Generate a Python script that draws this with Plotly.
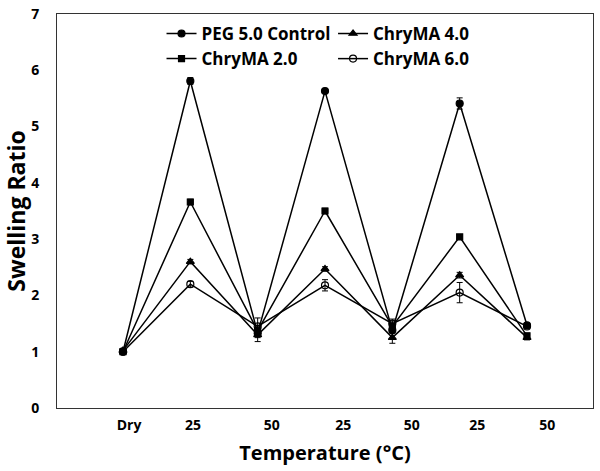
import plotly.graph_objects as go

categories = ["Dry", "25", "50", "25", "50", "25", "50"]
x_index = [0, 1, 2, 3, 4, 5, 6]
# tick label positions (labels in the original are slightly offset from the points)
label_pos = [0.09, 1.04, 2.21, 3.27, 4.29, 5.26, 6.30]

peg_control = [1.00, 5.81, 1.33, 5.63, 1.38, 5.41, 1.47]
peg_err = [0.05, 0.06, 0.08, 0.03, 0.05, 0.10, 0.03]
chryma_20 = [1.00, 3.66, 1.37, 3.50, 1.45, 3.04, 1.28]
chryma_20_err = [0.04, 0.05, 0.10, 0.05, 0.08, 0.04, 0.05]
chryma_40 = [1.02, 2.60, 1.30, 2.47, 1.25, 2.36, 1.25]
chryma_40_err = [0.04, 0.04, 0.12, 0.04, 0.10, 0.05, 0.04]
chryma_60 = [1.00, 2.20, 1.45, 2.18, 1.50, 2.05, 1.45]
chryma_60_err = [0.05, 0.05, 0.15, 0.10, 0.08, 0.18, 0.04]

series = [
    ("PEG 5.0 Control", peg_control, peg_err, "circle", 7, "legend"),
    ("ChryMA 2.0", chryma_20, chryma_20_err, "square", 6, "legend"),
    ("ChryMA 4.0", chryma_40, chryma_40_err, "triangle-up", 7, "legend2"),
    ("ChryMA 6.0", chryma_60, chryma_60_err, "circle-open", 7, "legend2"),
]

fig = go.Figure()
for name, vals, err, sym, size, leg in series:
    fig.add_trace(go.Scatter(
        x=x_index, y=vals, name=name, mode="lines+markers",
        line=dict(color="black", width=1.5),
        marker=dict(symbol=sym, size=size, color="black",
                    line=dict(color="black", width=1.2)),
        error_y=dict(type="data", array=err, visible=True, color="black",
                     thickness=1, width=3),
        legend=leg,
    ))

font_family = "Open Sans"
legend_font = dict(size=17, family=font_family, weight="bold")
fig.update_layout(
    width=600, height=471,
    margin=dict(l=57, r=7, t=14, b=63, autoexpand=False),
    paper_bgcolor="white", plot_bgcolor="white",
    font=dict(family=font_family, color="black"),
    showlegend=True,
    legend=dict(
        x=0.195, y=0.995, xanchor="left", yanchor="top",
        font=legend_font, bgcolor="rgba(0,0,0,0)", itemwidth=30,
        tracegroupgap=0, traceorder="normal",
    ),
    legend2=dict(
        x=0.515, y=0.995, xanchor="left", yanchor="top",
        font=legend_font, bgcolor="rgba(0,0,0,0)", itemwidth=30,
        tracegroupgap=0, traceorder="normal",
    ),
    xaxis=dict(
        range=[-0.98, 6.98], tickmode="array", tickvals=label_pos,
        ticktext=categories, showgrid=False, zeroline=False,
        showline=True, linecolor="#333", linewidth=1, mirror=True,
        ticks="", ticklen=0, automargin=False, ticklabelstandoff=4,
        ticklabeloverflow="allow",
        tickfont=dict(size=14, family=font_family, weight="bold"),
        title=dict(text="Temperature (°C)", standoff=13,
                   font=dict(size=20, family=font_family, weight="bold")),
    ),
    yaxis=dict(
        range=[0, 7], dtick=1, showgrid=False, zeroline=False,
        showline=True, linecolor="#333", linewidth=1, mirror=True,
        ticks="", ticklen=0, automargin=False, ticklabelstandoff=14,
        ticklabeloverflow="allow",
        tickfont=dict(size=14, family=font_family, weight="bold"),
        title=dict(text="Swelling Ratio", standoff=22,
                   font=dict(size=23, family=font_family, weight="bold")),
    ),
)

fig.write_html("out.html", config={"displayModeBar": False},
               post_script="document.body.style.margin='0';")
